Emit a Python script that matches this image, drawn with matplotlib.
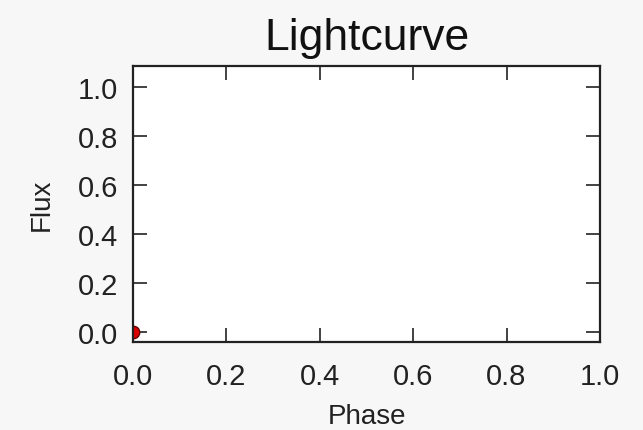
import matplotlib
matplotlib.use('Agg')
import matplotlib.pyplot as plt

# datos de la curva de luz (solo un punto visible)
phase = [0.0]
flux = [0.0]

plt.rcParams['font.family'] = ['Liberation Sans', 'DejaVu Sans']

fig = plt.figure(figsize=(6.43, 4.31), dpi=100, facecolor='#f7f7f7')
ax = fig.add_axes([0.207, 0.204, 0.726, 0.641])
ax.set_facecolor('white')

ax.plot(phase, flux, 'o', color='#dd0000', markeredgecolor='#660000',
        markersize=9)

ax.set_xlim(0, 1)
ax.set_ylim(-0.04, 1.085)
ax.set_xticks([0.0, 0.2, 0.4, 0.6, 0.8, 1.0])
ax.set_yticks([0.0, 0.2, 0.4, 0.6, 0.8, 1.0])

ax.tick_params(direction='in', top=True, right=True, length=10, width=1.2,
               labelsize=21, color='#222222', labelcolor='#222222')
ax.tick_params(axis='x', pad=14)
ax.tick_params(axis='y', pad=11)
for s in ax.spines.values():
    s.set_linewidth(1.6)
    s.set_color('#222222')

ax.set_title('Lightcurve', fontsize=32, color='#111111', pad=12)
ax.set_xlabel('Phase', fontsize=20, color='#222222', labelpad=10)
ax.set_ylabel('Flux', fontsize=20, color='#222222', labelpad=16)

fig.savefig('out.png', dpi=100, facecolor=fig.get_facecolor())
